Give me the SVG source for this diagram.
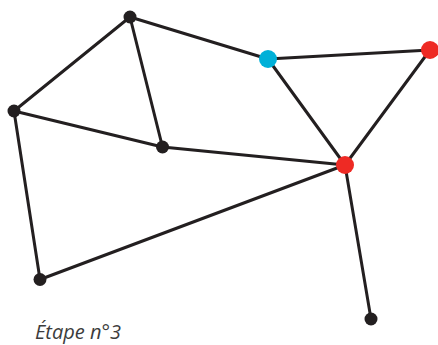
<svg xmlns="http://www.w3.org/2000/svg" width="438" height="345" viewBox="0 0 438 345">
<style>
.e{stroke:#231f20;stroke-width:3;fill:none;stroke-linecap:round}
.k{fill:#231f20}
.r{fill:#ee2a24}
.b{fill:#00b0d8}
.t{font-family:"Open Sans","Noto Sans",sans-serif;font-style:italic;font-size:20px;fill:#3c3c3c}
</style>
<rect width="438" height="345" fill="#fff"/>
<g id="edges">
<line class="e" x1="130" y1="17" x2="14" y2="111"/>
<line class="e" x1="130" y1="17" x2="268" y2="59"/>
<line class="e" x1="130" y1="17" x2="162.5" y2="147"/>
<line class="e" x1="14" y1="111" x2="162.5" y2="147"/>
<line class="e" x1="14" y1="111" x2="40" y2="279.5"/>
<line class="e" x1="162.5" y1="147" x2="345" y2="165"/>
<line class="e" x1="40" y1="279.5" x2="345" y2="165"/>
<line class="e" x1="268" y1="59" x2="430" y2="50"/>
<line class="e" x1="268" y1="59" x2="345" y2="165"/>
<line class="e" x1="430" y1="50" x2="345" y2="165"/>
<line class="e" x1="345" y1="165" x2="371" y2="319"/>
</g>
<g id="nA"><circle class="k" cx="130" cy="17" r="6.5"/></g>
<g id="nB"><circle class="k" cx="14" cy="111" r="6.5"/></g>
<g id="nC"><circle class="k" cx="162.5" cy="147" r="6.5"/></g>
<g id="nD"><circle class="k" cx="40" cy="279.5" r="6.5"/></g>
<g id="nE"><circle class="b" cx="268" cy="59" r="9"/></g>
<g id="nF"><circle class="r" cx="430" cy="50" r="9"/></g>
<g id="nG"><circle class="r" cx="345" cy="165" r="9"/></g>
<g id="nH"><circle class="k" cx="371" cy="319" r="6.5"/></g>
<text class="t" x="35" y="339">Étape n°3</text>
</svg>
